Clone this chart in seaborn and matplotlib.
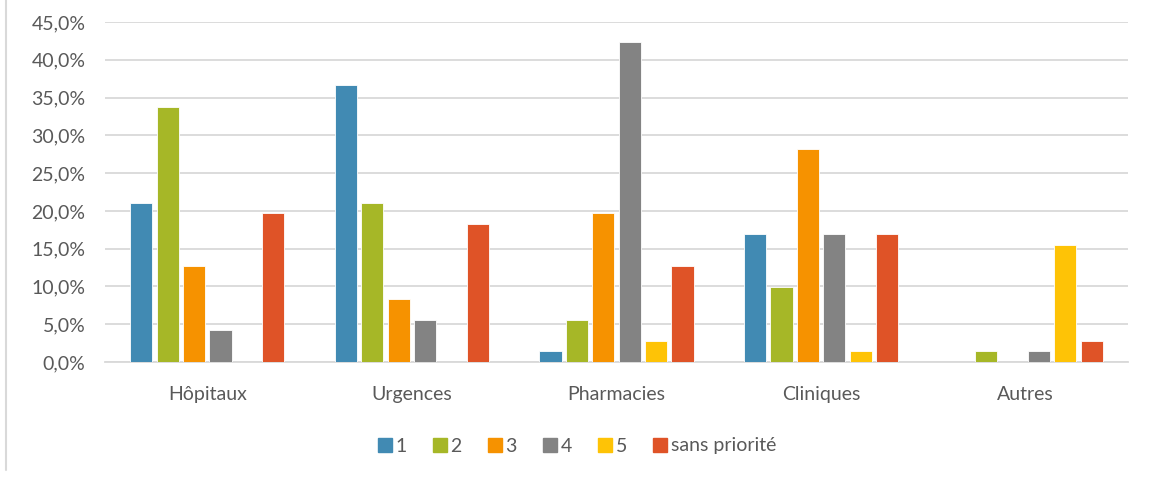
import matplotlib
matplotlib.use("Agg")
import matplotlib.pyplot as plt
import pandas as pd
import seaborn as sns
from matplotlib.lines import Line2D
from matplotlib.ticker import FuncFormatter, MultipleLocator


CATEGORIES = ["Hôpitaux", "Urgences", "Pharmacies", "Cliniques", "Autres"]
PRIORITIES = ["1", "2", "3", "4", "5", "sans priorité"]
COLORS = ["#418AB3", "#A6B727", "#F69200", "#838383", "#FEC306", "#DF5327"]

# percent of answers per priority, one list per category
HOPITAUX = [21.1, 33.8, 12.7, 4.2, 0.0, 19.7]
URGENCES = [36.6, 21.1, 8.4, 5.6, 0.0, 18.3]
PHARMACIES = [1.4, 5.6, 19.7, 42.3, 2.8, 12.7]
CLINIQUES = [16.9, 9.9, 28.2, 16.9, 1.4, 16.9]
AUTRES = [0.0, 1.4, 0.0, 1.4, 15.5, 2.8]

TEXT_COLOR = "#595959"
GRID_COLOR = "#D9D9D9"


def build_frame() -> pd.DataFrame:
    rows = {"categorie": [], "priorite": [], "pct": []}
    for cat, values in zip(CATEGORIES, [HOPITAUX, URGENCES, PHARMACIES, CLINIQUES, AUTRES]):
        for prio, v in zip(PRIORITIES, values):
            rows["categorie"].append(cat)
            rows["priorite"].append(prio)
            rows["pct"].append(v)
    return pd.DataFrame(rows)


def pct_label(v, pos):
    return f"{v:.1f}%".replace(".", ",")


sns.set_style("white")
plt.rcParams["font.family"] = ["Lato", "DejaVu Sans"]

df = build_frame()

fig = plt.figure(figsize=(11.51, 4.78), dpi=100)
ax = fig.add_axes([105 / 1151, 1 - 362 / 478, (1128 - 105) / 1151, (362 - 22) / 478])

sns.barplot(
    data=df,
    x="categorie",
    y="pct",
    hue="priorite",
    hue_order=PRIORITIES,
    order=CATEGORIES,
    palette=COLORS,
    width=0.775,
    gap=0.16,
    saturation=1,
    edgecolor="white",
    linewidth=0.6,
    legend=False,
    ax=ax,
    zorder=3,
)

ax.set_ylim(0, 45)
ax.yaxis.set_major_locator(MultipleLocator(5))
ax.yaxis.set_major_formatter(FuncFormatter(pct_label))
ax.grid(axis="y", color=GRID_COLOR, linewidth=1.3, zorder=0)
ax.set_axisbelow(True)
for side in ["top", "right", "left"]:
    ax.spines[side].set_visible(False)
ax.spines["bottom"].set_color(GRID_COLOR)
ax.spines["bottom"].set_linewidth(1.3)
ax.tick_params(axis="both", length=0, labelsize=14, colors=TEXT_COLOR)
ax.tick_params(axis="y", pad=14)
ax.tick_params(axis="x", pad=17)
ax.set_xlabel("")
ax.set_ylabel("")

handles = [
    Line2D([], [], marker="s", linestyle="", markersize=10.5, markerfacecolor=c, markeredgecolor=c)
    for c in COLORS
]
leg = fig.legend(
    handles,
    PRIORITIES,
    loc="center",
    bbox_to_anchor=(0.5, 1 - 446 / 478),
    ncol=6,
    frameon=False,
    fontsize=14,
    handletextpad=0.05,
    columnspacing=1.2,
    handlelength=1.0,
)
for t in leg.get_texts():
    t.set_color(TEXT_COLOR)

# left edge of the chart frame
fig.add_artist(Line2D([6 / 1151, 6 / 1151], [1 - 470 / 478, 1], color=GRID_COLOR, linewidth=1.5))

fig.savefig("out.png", dpi=100)
